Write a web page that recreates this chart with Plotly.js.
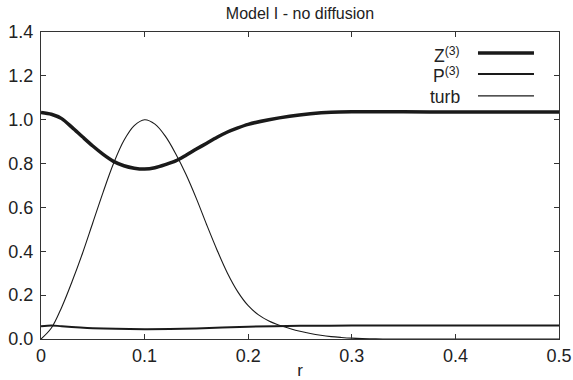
<!DOCTYPE html>
<html>
<head>
<meta charset="utf-8">
<script src="https://cdn.plot.ly/plotly-3.0.1.min.js"></script>
<style>html,body{margin:0;padding:0;background:#fff;}#chart{width:573px;height:380px;}</style>
</head>
<body>
<div id="chart"></div>
<script>
// Data
const rZ = [0, 0.01, 0.02, 0.03, 0.04, 0.05, 0.06, 0.07, 0.08, 0.09, 0.10, 0.11, 0.12, 0.13, 0.14, 0.15, 0.16, 0.17, 0.18, 0.19, 0.20, 0.22, 0.24, 0.26, 0.28, 0.30, 0.35, 0.40, 0.45, 0.50];
const zVals = [1.033, 1.025, 1.005, 0.965, 0.922, 0.88, 0.842, 0.81, 0.79, 0.779, 0.775, 0.781, 0.795, 0.812, 0.838, 0.866, 0.893, 0.92, 0.944, 0.963, 0.979, 1.0, 1.016, 1.027, 1.034, 1.036, 1.036, 1.035, 1.035, 1.035];

const rP = [0, 0.01, 0.02, 0.05, 0.10, 0.15, 0.20, 0.25, 0.30, 0.40, 0.50];
const pVals = [0.058, 0.062, 0.058, 0.049, 0.045, 0.048, 0.056, 0.060, 0.061, 0.061, 0.061];

const rT = [0, 0.01, 0.02, 0.03, 0.04, 0.05, 0.06, 0.07, 0.08, 0.09, 0.10, 0.11, 0.12, 0.13, 0.14, 0.15, 0.16, 0.17, 0.18, 0.19, 0.20, 0.21, 0.22, 0.23, 0.24, 0.25, 0.26, 0.27, 0.28, 0.29, 0.30, 0.31, 0.32, 0.33, 0.40, 0.50];
const turbVals = [0, 0.05, 0.145, 0.262, 0.39, 0.53, 0.67, 0.80, 0.905, 0.973, 1.0, 0.98, 0.925, 0.845, 0.75, 0.64, 0.52, 0.405, 0.30, 0.215, 0.152, 0.11, 0.082, 0.063, 0.048, 0.035, 0.025, 0.017, 0.011, 0.007, 0.004, 0.002, 0.001, 0, 0, 0];

const seriesNames = ["Z<sup>(3)</sup>", "P<sup>(3)</sup>", "turb"];
const seriesWidths = [3.5, 2, 1.1];
const yTicks = [0, 0.2, 0.4, 0.6, 0.8, 1.0, 1.2, 1.4];
const xTicks = [0, 0.1, 0.2, 0.3, 0.4, 0.5];

const lineColor = "#1a1a1a";
const font = "Liberation Sans, Arial, Helvetica, sans-serif";

const traces = [
  {x: rZ, y: zVals, mode: "lines", line: {color: lineColor, width: seriesWidths[0], shape: "spline", smoothing: 0.8}, name: seriesNames[0]},
  {x: rP, y: pVals, mode: "lines", line: {color: lineColor, width: seriesWidths[1], shape: "spline", smoothing: 0.8}, name: seriesNames[1]},
  {x: rT, y: turbVals, mode: "lines", line: {color: lineColor, width: seriesWidths[2], shape: "spline", smoothing: 1}, name: seriesNames[2]}
];

// Manual gnuplot-style legend (text right, sample line to its right)
const legTextX = 0.8127, legX0 = 0.8436, legX1 = 0.9517;
const legY = [0.9317, 0.8634, 0.7919];
const annotations = seriesNames.map((n, i) => ({
  xref: "paper", yref: "paper", x: legTextX, y: legY[i] - 0.005, xanchor: "right", yanchor: "middle",
  text: n, showarrow: false, font: {family: font, size: 17.5, color: "#222"}
}));
const shapes = seriesNames.map((n, i) => ({
  type: "line", xref: "paper", yref: "paper", x0: legX0, x1: legX1, y0: legY[i], y1: legY[i],
  line: {color: lineColor, width: seriesWidths[i]}
}));

const layout = {
  width: 573, height: 380,
  margin: {l: 41, r: 14, t: 32, b: 40.5},
  paper_bgcolor: "#fff", plot_bgcolor: "#fff",
  showlegend: false,
  font: {family: font, size: 16, color: "#222"},
  title: {text: "Model I - no diffusion", x: 0.5235, xanchor: "center", y: 0.965, yanchor: "middle", font: {family: font, size: 16, color: "#222"}},
  xaxis: {
    range: [0, 0.5], tickvals: xTicks, ticktext: xTicks.map(v => v === 0 ? "0" : v.toFixed(1)),
    ticks: "inside", ticklen: 5, tickcolor: "#333", showline: true, linecolor: "#333", linewidth: 1, mirror: "ticks",
    showgrid: false, zeroline: false, tickfont: {family: font, size: 18, color: "#222"},
    title: {text: "r", font: {family: font, size: 17, color: "#222"}, standoff: 0}
  },
  yaxis: {
    range: [0, 1.4], tickvals: yTicks, ticktext: yTicks.map(v => v.toFixed(1)),
    ticks: "inside", ticklen: 5, tickcolor: "#333", showline: true, linecolor: "#333", linewidth: 1, mirror: "ticks",
    showgrid: false, zeroline: false, tickfont: {family: font, size: 18, color: "#222"}, ticklabelstandoff: 3
  },
  annotations: annotations,
  shapes: shapes
};

Plotly.newPlot("chart", traces, layout, {displayModeBar: false, staticPlot: true});
</script>
</body>
</html>
